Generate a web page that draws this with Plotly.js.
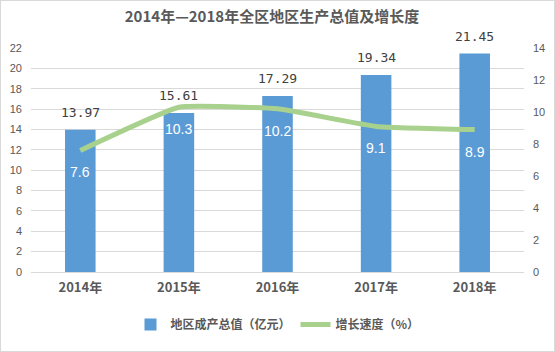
<!DOCTYPE html>
<html>
<head>
<meta charset="utf-8">
<script src="https://cdn.plot.ly/plotly-3.0.1.min.js"></script>
<style>
html,body{margin:0;padding:0;background:#fff;}
#chart{width:553px;height:350px;border:1px solid #D9D9D9;}
</style>
</head>
<body>
<div id="chart"></div>
<script>
const categories = ['2014年', '2015年', '2016年', '2017年', '2018年'];
const gdpValues = [13.97, 15.61, 17.29, 19.34, 21.45];
const growthValues = [7.6, 10.3, 10.2, 9.1, 8.9];
const gdpLabels = ['13.97', '15.61', '17.29', '19.34', '21.45'];
const growthLabels = ['7.6', '10.3', '10.2', '9.1', '8.9'];
const seriesNames = ['地区成产总值（亿元）', '增长速度（%）'];
const chartTitle = '2014年—2018年全区地区生产总值及增长度';

const cjk = '"Noto Sans CJK SC", sans-serif';

const traces = [
  {
    type: 'bar',
    name: seriesNames[0],
    x: categories,
    y: gdpValues,
    marker: {color: '#5B9BD5'},
    hoverinfo: 'none'
  },
  {
    type: 'scatter',
    mode: 'lines',
    name: seriesNames[1],
    x: categories,
    y: growthValues,
    yaxis: 'y2',
    line: {color: '#A9D18E', width: 5, shape: 'spline', smoothing: 0.35},
    cliponaxis: false,
    hoverinfo: 'none'
  }
];

const annotations = [];
categories.forEach((c, i) => {
  annotations.push({
    x: c, y: gdpValues[i], xref: 'x', yref: 'y',
    text: gdpLabels[i], showarrow: false,
    yanchor: 'bottom', yshift: 8,
    font: {family: '"DejaVu Sans Mono", monospace', size: 13, color: '#404040'}
  });
  annotations.push({
    x: c, y: growthValues[i], xref: 'x', yref: 'y2',
    text: growthLabels[i], showarrow: false,
    yanchor: 'middle', yshift: -22,
    font: {family: '"Liberation Sans", Arial, sans-serif', size: 14, color: '#FFFFFF'}
  });
});

const layout = {
  width: 553,
  height: 350,
  margin: {l: 30, r: 30, t: 47, b: 74},
  paper_bgcolor: '#FFFFFF',
  plot_bgcolor: '#FFFFFF',
  showlegend: true,
  bargap: 0.69,
  annotations: annotations,
  title: {
    text: chartTitle,
    x: 0.49, xanchor: 'center', y: 0.955, yanchor: 'middle',
    font: {family: cjk, size: 15, color: '#595959', weight: 'bold'}
  },
  xaxis: {
    type: 'category',
    showgrid: false,
    showline: false,
    zeroline: false,
    ticks: '',
    tickfont: {family: cjk, size: 13, color: '#595959', weight: 'bold'},
    ticklabelstandoff: 6
  },
  yaxis: {
    range: [0, 22],
    dtick: 2,
    showgrid: true,
    gridcolor: '#D9D9D9',
    gridwidth: 1,
    zeroline: true,
    zerolinecolor: '#D9D9D9',
    showline: false,
    ticks: '',
    tickfont: {family: '"Liberation Sans", Arial, sans-serif', size: 11, color: '#595959'},
    ticklabelstandoff: 8
  },
  yaxis2: {
    range: [0, 14],
    dtick: 2,
    overlaying: 'y',
    side: 'right',
    showgrid: false,
    zeroline: false,
    showline: false,
    ticks: '',
    tickfont: {family: '"Liberation Sans", Arial, sans-serif', size: 11, color: '#595959'},
    ticklabelstandoff: 8
  },
  legend: {
    orientation: 'h',
    x: 0.5, xanchor: 'center',
    y: -0.17, yanchor: 'top',
    font: {family: cjk, size: 12, color: '#595959', weight: 'bold'},
    itemwidth: 30,
    tracegroupgap: 0
  }
};

Plotly.newPlot('chart', traces, layout, {displayModeBar: false, staticPlot: true});
</script>
</body>
</html>
